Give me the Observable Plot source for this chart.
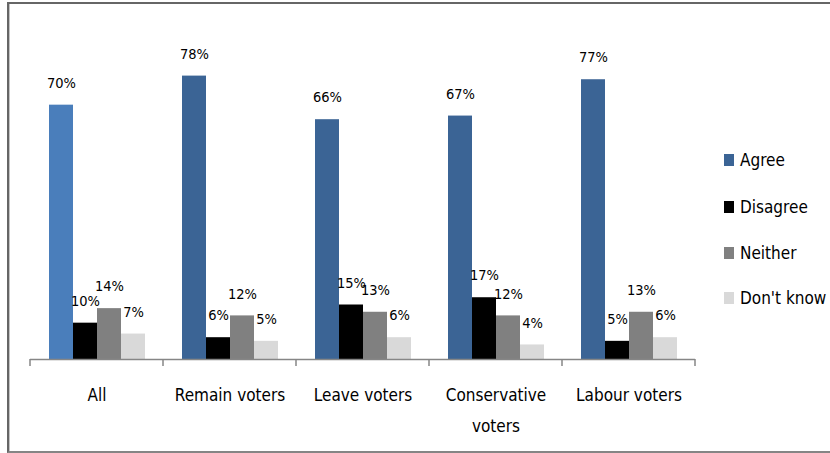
<!DOCTYPE html>
<html>
<head>
<meta charset="utf-8">
<script src="https://cdn.jsdelivr.net/npm/d3@7"></script>
<script src="https://cdn.jsdelivr.net/npm/@observablehq/plot@0.6"></script>
<style>
  html, body { margin: 0; padding: 0; background: #fff; }
  #wrap { position: relative; width: 830px; height: 453px; overflow: hidden; }
  #frame { position: absolute; left: 7px; top: 2px; width: 900px; height: 447px;
    border-left: 2px solid #666; border-top: 2px solid #666; border-bottom: 2px solid #858585;
    box-shadow: inset 1px 0 0 #c4c4c4; pointer-events: none; }
  #chart { position: absolute; left: 0; top: 0; }
  #legend { position: absolute; left: 724px; top: 0; font-family: "DejaVu Sans Condensed", "Liberation Sans Narrow", sans-serif; font-size: 17px; color: #000; }
  .item { position: absolute; left: 0; display: flex; align-items: center; white-space: nowrap; height: 24px; }
  .sw { width: 10px; height: 12px; margin-right: 6px; }
</style>
</head>
<body>
<div id="wrap">
  <div id="chart"></div>
  <div id="frame"></div>
  <div id="legend"></div>
</div>
<script>
const categories = ["All", "Remain voters", "Leave voters", "Conservative voters", "Labour voters"];
const categoryLabels = ["All", "Remain voters", "Leave voters", "Conservative\nvoters", "Labour voters"];
const series = ["Agree", "Disagree", "Neither", "Don't know"];
const agree = [70, 78, 66, 67, 77];
const disagree = [10, 6, 15, 17, 5];
const neither = [14, 12, 13, 12, 13];
const dontKnow = [7, 5, 6, 4, 6];
const seriesColors = ["#3B6495", "#000000", "#808080", "#D9D9D9"];
const allAgreeColor = "#4A7EBB";

const valuesBySeries = [agree, disagree, neither, dontKnow];
const table = [];
categories.forEach((c, i) => {
  series.forEach((s, j) => {
    table.push({category: c, series: s, value: valuesBySeries[j][i]});
  });
});

const fill = d => (d.category === "All" && d.series === "Agree")
  ? allAgreeColor
  : seriesColors[series.indexOf(d.series)];

const chart = Plot.plot({
  width: 830,
  height: 453,
  marginLeft: 30,
  marginRight: 135,
  marginTop: 32,
  marginBottom: 94,
  style: {fontFamily: '"DejaVu Sans Condensed", "Liberation Sans Narrow", sans-serif', background: "transparent", color: "#000"},
  fx: {domain: categories, padding: 0, axis: null},
  x: {domain: series, paddingInner: 0, paddingOuter: 0.742, axis: null},
  y: {domain: [0, 90], axis: null},
  color: {type: "identity"},
  marks: [
    Plot.barY(table, {fx: "category", x: "series", y: "value", fill}),
    Plot.ruleY([0], {stroke: "#868686", strokeWidth: 1.5}),
    Plot.text(table, {fx: "category", x: "series", y: "value", text: d => d.value + "%", dy: -22, fontSize: 14.5, fill: "#000"}),
    Plot.text(categories, {fx: d => d, text: d => categoryLabels[categories.indexOf(d)], frameAnchor: "bottom", lineAnchor: "top", dy: 20, lineHeight: 1.8, fontSize: 17, fill: "#000"})
  ]
});
document.getElementById("chart").appendChild(chart);

// category boundary ticks on the x axis, from the fx scale
const fxs = chart.scale("fx");
const ys = chart.scale("y");
const [r0, r1] = fxs.range;
const n = fxs.domain.length;
const step = (r1 - r0) / n;
const y0 = ys.range[0];
const svg = d3.select(chart.tagName.toLowerCase() === "svg" ? chart : chart.querySelector("svg"));
const g = svg.append("g").attr("stroke", "#868686").attr("stroke-width", 1.5);
for (let i = 0; i <= n; i++) {
  const x = r0 + i * step;
  g.append("line").attr("x1", x).attr("x2", x).attr("y1", y0).attr("y2", y0 + 7);
}

// legend
const legend = document.getElementById("legend");
const rowCenters = [160, 207, 253, 298];
series.forEach((s, j) => {
  const item = document.createElement("div");
  item.className = "item";
  item.style.top = (rowCenters[j] - 12) + "px";
  const sw = document.createElement("div");
  sw.className = "sw";
  sw.style.background = seriesColors[j];
  const t = document.createElement("span");
  t.textContent = s;
  item.appendChild(sw);
  item.appendChild(t);
  legend.appendChild(item);
});
</script>
</body>
</html>
